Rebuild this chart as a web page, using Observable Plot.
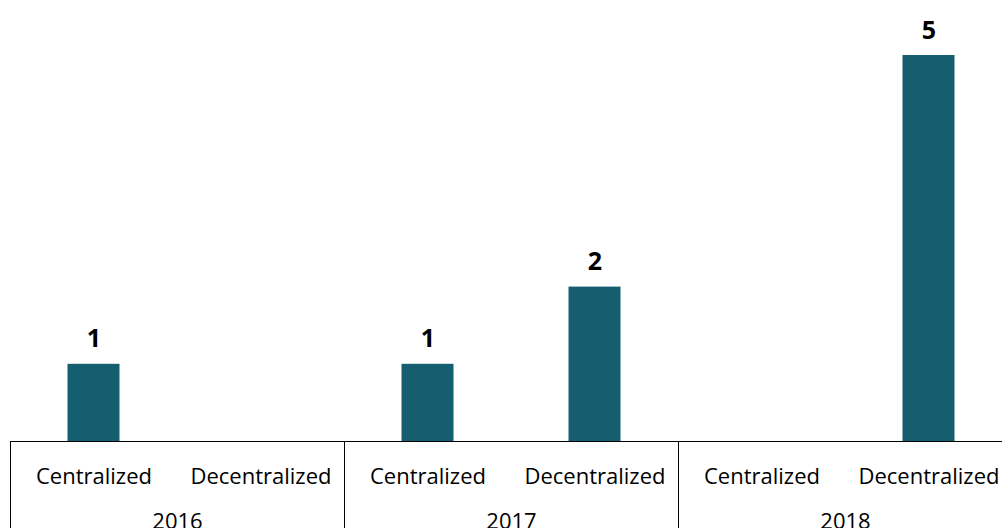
<!DOCTYPE html>
<html>
<head>
<meta charset="utf-8">
<script src="https://cdn.jsdelivr.net/npm/d3@7"></script>
<script src="https://cdn.jsdelivr.net/npm/@observablehq/plot@0.6"></script>
<style>
  html, body { margin: 0; padding: 0; background: #fff; overflow: hidden; }
  #chart svg { display: block; font-family: "Open Sans", sans-serif; }
</style>
</head>
<body>
<div id="chart"></div>
<script>
const years = ["2016", "2017", "2018"];
const categories = ["Centralized", "Decentralized"];
const centralized = [1, 1, 0];
const decentralized = [0, 2, 5];

const seriesValues = [centralized, decentralized];
const rows = [];
years.forEach((year, g) => {
  categories.forEach((cat, c) => {
    rows.push({year, category: cat, slot: g * categories.length + c, value: seriesValues[c][g]});
  });
});
const groups = years.map((year, g) => ({year, mid: g * categories.length + categories.length / 2}));
const separators = d3.range(0, years.length + 1).map(g => g * categories.length);

const W = 1002, H = 528;
const slotPx = 167;
const barPx = 52;
const inset = (slotPx - barPx) / 2;

const chart = Plot.plot({
  width: W,
  height: H,
  marginLeft: 10,
  marginRight: 0,
  marginTop: 55,
  marginBottom: 87,
  style: {fontFamily: "Open Sans, sans-serif", background: "#fff"},
  x: {type: "linear", domain: [0, rows.length], range: [10, 10 + slotPx * rows.length]},
  y: {domain: [0, 5], axis: null},
  marks: [
    Plot.rect(rows.filter(d => d.value > 0), {
      x1: "slot",
      x2: d => d.slot + 1,
      y1: 0,
      y2: "value",
      fill: "#155e6f",
      insetLeft: inset,
      insetRight: inset
    }),
    Plot.text(rows.filter(d => d.value > 0), {
      x: d => d.slot + 0.5,
      y: "value",
      text: d => String(d.value),
      dy: -25,
      fontSize: 25,
      fontWeight: "bold",
      fill: "#000"
    }),
    Plot.ruleY([0], {stroke: "#000", strokeWidth: 1}),
    Plot.axisX({ticks: separators, tickSize: 87, tickFormat: () => "", stroke: "#000", strokeOpacity: 1}),
    Plot.text(rows, {
      x: d => d.slot + 0.5,
      y: 0,
      text: "category",
      dy: 35,
      fontSize: 22,
      fill: "#000"
    }),
    Plot.text(groups, {
      x: "mid",
      y: 0,
      text: "year",
      dy: 80,
      fontSize: 22,
      fill: "#000"
    })
  ]
});
document.getElementById("chart").appendChild(chart);
</script>
</body>
</html>
